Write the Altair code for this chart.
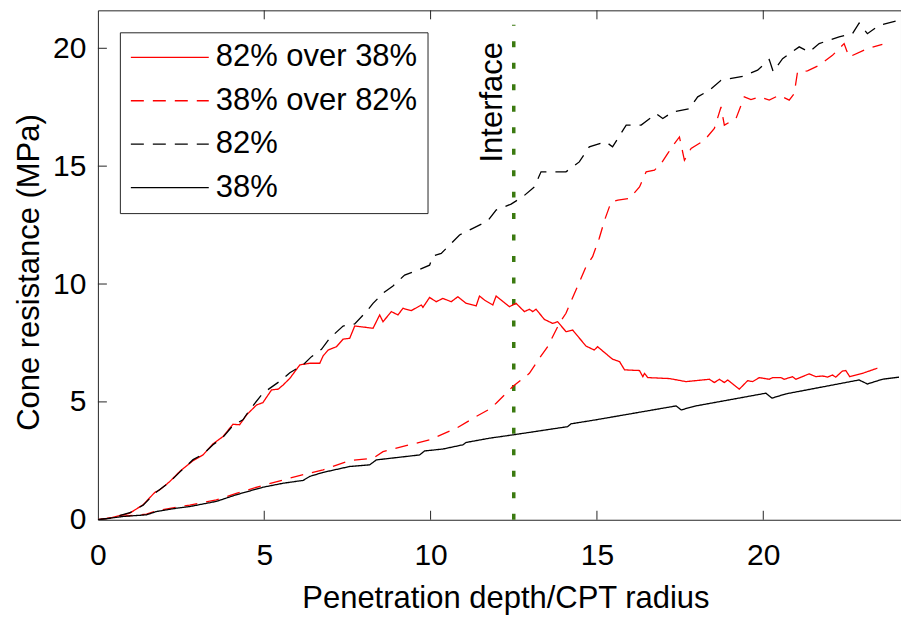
import altair as alt
import pandas as pd

FONT = "Liberation Sans"

series_names = ["82% over 38%", "38% over 82%", "82%", "38%"]
series_colors = ["#ff0000", "#ff0000", "#000000", "#000000"]
series_dashes = [[1, 0], [13, 9], [13, 9], [1, 0]]

# 82% over 38% (red solid)
ax = [0, 0.36, 0.96, 1.36, 1.71, 1.86, 2.16, 2.46, 2.86, 3.16,
      3.46, 3.76, 4.06, 4.26, 4.47, 4.77, 4.96, 5.22, 5.42, 5.57,
      5.77, 6.07, 6.37, 6.67, 6.77, 6.92, 7.17, 7.37, 7.57, 7.72,
      8.07, 8.27, 8.47, 8.57, 8.82, 9.02, 9.17, 9.42, 9.72, 9.77,
      9.97, 10.17, 10.37, 10.62, 10.82, 11.07, 11.37, 11.47, 11.62, 11.87,
      11.97, 12.37, 12.57, 12.82, 12.97, 13.07, 13.17, 13.42, 13.67, 13.82,
      14.07, 14.27, 14.67, 14.92, 15.02, 15.47, 15.68, 15.83, 16.28, 16.38,
      16.43, 16.53, 17.18, 17.68, 18.38, 18.53, 18.68, 18.83, 18.93, 19.28,
      19.53, 19.68, 19.88, 20.18, 20.28, 20.53, 20.63, 20.88, 20.98, 21.38,
      21.58, 21.78, 21.93, 22.08, 22.18, 22.38, 22.48, 22.6, 22.98, 23.43]
ay = [0, 0.07, 0.28, 0.64, 1.16, 1.27, 1.62, 2.05, 2.51, 2.75,
      3.22, 3.53, 4.05, 4.03, 4.45, 4.87, 4.97, 5.51, 5.54, 5.72,
      6.00, 6.57, 6.64, 6.64, 6.95, 7.20, 7.34, 7.66, 7.70, 8.22,
      8.16, 8.12, 8.69, 8.40, 8.83, 8.69, 8.97, 8.87, 9.11, 9.01,
      9.43, 9.25, 9.39, 9.25, 9.46, 9.18, 9.07, 9.49, 9.32, 9.11,
      9.49, 9.04, 9.18, 8.83, 8.93, 8.83, 8.93, 8.50, 8.33, 8.40,
      7.98, 8.05, 7.37, 7.20, 7.34, 6.81, 6.71, 6.36, 6.33, 6.07,
      6.21, 6.03, 5.99, 5.86, 5.96, 5.82, 5.96, 5.82, 5.93, 5.54,
      5.90, 5.86, 6.03, 5.96, 6.03, 6.03, 5.96, 6.07, 5.96, 6.19,
      6.07, 6.10, 6.05, 6.14, 6.05, 6.31, 6.33, 6.07, 6.21, 6.43]

# 38% over 82% (red dashed)
cx = [0, 0.76, 1.46, 1.76, 2.36, 2.76, 3.56, 4.16, 4.96, 5.97,
      6.77, 7.57, 8.27, 8.57, 9.37, 9.97, 10.77, 11.37, 11.77, 11.97,
      12.47, 12.97, 13.27, 13.52, 13.87, 14.07, 14.37, 14.67, 14.87, 15.07,
      15.23, 15.43, 15.63, 15.98, 16.28, 16.48, 16.73, 16.93, 17.13, 17.33,
      17.48, 17.63, 17.83, 18.23, 18.53, 18.73, 18.83, 19.18, 19.43, 19.63,
      19.88, 20.18, 20.48, 20.78, 20.93, 21.03, 21.33, 21.68, 22.08, 22.43,
      22.58, 23.13, 23.58]
cy = [0, 0.15, 0.24, 0.38, 0.53, 0.62, 0.84, 1.12, 1.46, 1.84,
      2.12, 2.51, 2.61, 2.89, 3.18, 3.39, 3.88, 4.38, 4.69, 4.94,
      5.65, 6.21, 6.85, 7.34, 8.33, 8.76, 9.75, 10.73, 11.16, 11.94,
      12.71, 13.49, 13.56, 13.63, 14.12, 14.76, 14.83, 15.11, 15.54, 15.96,
      16.24, 15.25, 15.75, 16.10, 16.60, 17.51, 16.74, 17.02, 17.94, 17.82,
      17.94, 17.80, 18.01, 17.80, 18.08, 19.00, 19.04, 19.28, 19.70, 20.20,
      19.63, 19.99, 20.17]

# 82% (black dashed)
bx = [0, 0.36, 0.96, 1.36, 1.71, 2.16, 2.46, 2.86, 3.16, 3.46,
      3.76, 4.06, 4.36, 4.56, 4.96, 5.52, 5.77, 6.17, 6.42, 6.72,
      6.97, 7.37, 7.72, 8.07, 8.27, 8.57, 8.87, 9.22, 9.62, 9.97,
      10.07, 10.32, 10.62, 10.87, 11.27, 11.72, 11.97, 12.42, 12.77, 13.12,
      13.32, 13.72, 14.07, 14.47, 14.77, 15.27, 15.47, 15.88, 16.33, 16.78,
      16.98, 17.28, 17.78, 18.03, 18.38, 18.73, 19.38, 19.83, 20.18, 20.3,
      20.58, 21.08, 21.38, 21.68, 22.28, 22.68, 22.88, 23.13, 23.48, 23.98]
by = [0, 0.06, 0.30, 0.62, 1.12, 1.60, 2.02, 2.55, 2.78, 3.18,
      3.50, 4.00, 4.24, 4.66, 5.37, 5.93, 6.24, 6.57, 6.92, 7.23,
      7.70, 8.22, 8.31, 8.83, 9.18, 9.61, 9.92, 10.38, 10.59, 10.80,
      11.19, 11.30, 11.72, 12.08, 12.36, 12.68, 13.14, 13.39, 13.70, 14.12,
      14.76, 14.76, 14.76, 15.18, 15.82, 16.03, 15.82, 16.74, 16.74, 17.23,
      17.02, 17.30, 17.44, 17.94, 18.22, 18.64, 18.81, 19.07, 19.52, 19.00,
      19.56, 20.06, 19.84, 20.20, 20.48, 20.62, 21.07, 20.62, 20.97, 21.15]

# 38% (black solid)
dx = [0, 0.76, 1.46, 1.76, 2.36, 2.76, 3.56, 4.16, 4.96, 5.57,
      6.17, 6.37, 6.77, 7.57, 8.17, 8.37, 9.67, 9.82, 10.37, 10.97,
      11.07, 11.77, 12.47, 14.12, 14.22, 14.97, 17.38, 17.53, 17.98, 20.08,
      20.26, 20.68, 22.88, 23.13, 23.58, 24.08]
dy = [0, 0.14, 0.21, 0.35, 0.49, 0.56, 0.78, 1.06, 1.38, 1.55,
      1.67, 1.84, 2.01, 2.26, 2.33, 2.54, 2.75, 2.92, 3.00, 3.18,
      3.28, 3.46, 3.60, 3.95, 4.07, 4.24, 4.83, 4.66, 4.83, 5.37,
      5.16, 5.34, 5.93, 5.76, 5.96, 6.05]

x_ticks = [0, 5, 10, 15, 20]
y_ticks = [0, 5, 10, 15, 20]
inner_ticks = [5, 10, 15, 20]

interface_x = [12.5]
interface_y = [0]
interface_y2 = [21.0]
interface_label = ["Interface"]
interface_label_x = [12.16]
interface_label_y = [17.71]

X_TITLE = "Penetration depth/CPT radius"
Y_TITLE = "Cone resistance (MPa)"

rows = []
for name, xs, ys in [(series_names[0], ax, ay), (series_names[1], cx, cy),
                     (series_names[2], bx, by), (series_names[3], dx, dy)]:
    for xv, yv in zip(xs, ys):
        rows.append({"series": name, "x": xv, "y": yv})
df = pd.DataFrame(rows)

xscale = alt.Scale(domain=[0, 24.14], nice=False, zero=False)
yscale = alt.Scale(domain=[0, 21.61], nice=False, zero=False)

x_axis = alt.Axis(values=x_ticks, ticks=False, tickSize=0, domain=False, grid=False,
                  labelFlush=False, labelFont=FONT, labelFontSize=30, labelColor="black",
                  labelPadding=45, labelBaseline="alphabetic",
                  titleFont=FONT, titleFontSize=31, titleFontWeight="normal",
                  titleColor="black", titleX=408, titleY=88,
                  titleBaseline="alphabetic", titleAlign="center")
y_axis = alt.Axis(values=y_ticks, ticks=False, tickSize=0, domain=False, grid=False,
                  labelFlush=False, labelFont=FONT, labelFontSize=30, labelColor="black",
                  labelPadding=12, labelBaseline="middle",
                  titleFont=FONT, titleFontSize=31, titleFontWeight="normal",
                  titleColor="black", titleX=-59.5, titleY=262, titleAngle=270,
                  titleBaseline="alphabetic", titleAlign="center")


def X(field):
    return alt.X(field, type="quantitative", scale=xscale, axis=x_axis, title=X_TITLE)


def Y(field):
    return alt.Y(field, type="quantitative", scale=yscale, axis=y_axis, title=Y_TITLE)


legend = alt.Legend(title=None, orient="none", legendX=22, legendY=22,
                    symbolType="stroke", symbolSize=6084, symbolStrokeWidth=1.3,
                    labelFont=FONT, labelFontSize=31, labelColor="black",
                    labelLimit=500, labelOffset=6, clipHeight=30, rowPadding=12.5,
                    padding=10, strokeColor="#262626", fillColor="white")

lines = alt.Chart(df).mark_line(strokeWidth=1.3, clip=True).encode(
    x=X("x"),
    y=Y("y"),
    color=alt.Color("series:N", scale=alt.Scale(domain=series_names, range=series_colors),
                    legend=legend),
    strokeDash=alt.StrokeDash("series:N",
                              scale=alt.Scale(domain=series_names, range=series_dashes),
                              legend=legend),
)

iface_df = pd.DataFrame({"x": interface_x, "y": interface_y, "y2": interface_y2})
iface = alt.Chart(iface_df).mark_rule(color="#3b7a10", strokeWidth=3.5,
                                      strokeDash=[6, 15.5]).encode(
    x=X("x"), y=Y("y"), y2="y2:Q")

label_df = pd.DataFrame({"x": interface_label_x, "y": interface_label_y,
                         "label": interface_label})
iface_text = alt.Chart(label_df).mark_text(angle=270, align="center", baseline="alphabetic",
                                           font=FONT, fontSize=31, color="black").encode(
    x=X("x"), y=Y("y"), text="label:N")

tick_df = pd.DataFrame({"x": inner_ticks, "y": inner_ticks})
tick_color = "#262626"
bottom_ticks = alt.Chart(tick_df).mark_rule(color=tick_color, strokeWidth=1).encode(
    x=X("x"), y=alt.value(510), y2=alt.value(501))
top_ticks = alt.Chart(tick_df).mark_rule(color=tick_color, strokeWidth=1).encode(
    x=X("x"), y=alt.value(0), y2=alt.value(9))
left_ticks = alt.Chart(tick_df).mark_rule(color=tick_color, strokeWidth=1).encode(
    y=Y("y"), x=alt.value(0), x2=alt.value(9))

chart = alt.layer(iface, lines, iface_text, bottom_ticks, top_ticks, left_ticks).properties(
    width=804, height=510,
    autosize=alt.AutoSizeParams(type="none"),
    padding={"left": 98, "top": 10, "right": 0, "bottom": 97},
    background="white",
).configure_view(stroke=tick_color, strokeWidth=1)

chart.save("out.html", embed_options={"renderer": "svg", "actions": False})
